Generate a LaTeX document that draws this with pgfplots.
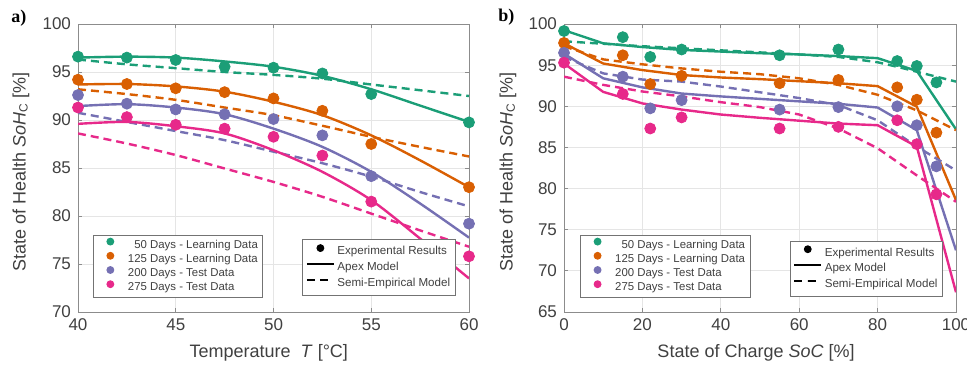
\documentclass[border=0pt]{standalone}
\usepackage{fontspec}
\setmainfont{Liberation Sans}
\newfontfamily\serifb{Liberation Serif}
\usepackage{pgfplots}
\pgfplotsset{compat=1.18}
\definecolor{cg}{HTML}{1B9E77}
\definecolor{co}{HTML}{D95F02}
\definecolor{cb}{HTML}{7570B3}
\definecolor{cp}{HTML}{E7298A}
\definecolor{txt}{HTML}{404040}
\pgfplotsset{
  myaxis/.style={
    scale only axis, width=195.5pt, height=144pt,
    grid=major, grid style={black!10, line width=0.4pt},
    axis line style={black!45, line width=0.5pt},
    tick style={black!45, line width=0.4pt}, tick align=inside, major tick length=2pt,
    ticklabel style={font=\fontsize{8.5}{10}\selectfont, text=txt},
    label style={font=\fontsize{9}{11}\selectfont, text=txt},
    /pgf/number format/assume math mode=true,
    legend cell align=left,
  },
  leg1/.style={
    legend style={at={(#1)}, anchor=south west, draw=black!55, line width=0.5pt, fill=white,
      inner xsep=1.5pt, inner ysep=1.2pt, row sep=0pt,
      font=\fontsize{5.7}{6.5}\selectfont,
      nodes={inner xsep=1pt, inner ysep=0.8pt, text height=4.2pt, text depth=1.2pt, text=txt}},
    legend image code/.code={
      \path[draw=none, fill=none] (0pt,-1pt) rectangle (14.8pt,1pt);
      \draw[##1, mark size=1.7pt] plot coordinates {(7pt,1.9pt)};},
  },
  leg2/.style={
    legend style={at={(#1)}, anchor=south east, draw=black!55, line width=0.5pt, fill=white,
      inner xsep=1.4pt, inner ysep=2pt, row sep=0pt,
      font=\fontsize{5.8}{6.8}\selectfont,
      nodes={inner xsep=1.3pt, inner ysep=1.2pt, text height=4.3pt, text depth=1.2pt, text=txt}},
    legend image code/.code={
      \path[draw=none, fill=none] (0pt,-1pt) rectangle (14.1pt,1pt);
      \draw[mark repeat=2, mark phase=2, ##1] plot coordinates {(0.6pt,1.9pt) (7.4pt,1.9pt) (14.1pt,1.9pt)};},
  },
  dot/.style={only marks, mark=*, mark size=2.75pt, color=#1},
  sol/.style={color=#1, line width=1.2pt, forget plot},
  das/.style={color=#1, line width=1.2pt, dash pattern=on 4pt off 2.5pt, forget plot},
}
\begin{document}
\begin{tikzpicture}
\useasboundingbox (0,0) rectangle (483.5pt,182.5pt);
% ---------------- panel a ----------------
\begin{axis}[myaxis, at={(39pt,26.5pt)}, anchor=south west,
  xmin=40, xmax=60, ymin=70, ymax=100,
  xtick={40,45,...,60}, ytick={70,75,...,100},
  xlabel={Temperature\ \ \textit{T} [°C]},
  ylabel={State of Health \textit{SoH}\textsubscript{C} [\%]},
  xlabel style={at={(axis description cs:0.488,-0.142)}, anchor=center},
  ylabel style={at={(axis description cs:-0.146,0.486)}, anchor=center},
  leg1={0.038,0.049}]
\addplot[sol=cg, smooth] coordinates {(40,96.5) (42.5,96.6) (45,96.5) (47.5,96.1) (50,95.55) (52.5,94.6) (55,93.2) (57.5,91.5) (60,89.8)};
\addplot[das=cg, smooth] coordinates {(40,96.3) (42.5,95.8) (45,95.4) (47.5,95.0) (50,94.7) (52.5,94.3) (55,93.7) (57.5,93.1) (60,92.5)};
\addplot[sol=co, smooth] coordinates {(40,93.7) (42.5,93.75) (45,93.5) (47.5,92.95) (50,91.9) (52.5,90.5) (55,88.4) (57.5,85.8) (60,83.0)};
\addplot[das=co, smooth] coordinates {(40,93.2) (42.5,92.7) (45,92.1) (47.5,91.3) (50,90.5) (52.5,89.4) (55,88.25) (57.5,87.2) (60,86.2)};
\addplot[sol=cb, smooth] coordinates {(40,91.45) (42.5,91.65) (45,91.3) (47.5,90.6) (50,89.1) (52.5,87.2) (55,84.6) (57.5,81.3) (60,77.75)};
\addplot[das=cb, smooth] coordinates {(40,90.75) (42.5,89.8) (45,88.85) (47.5,87.9) (50,86.7) (52.5,85.5) (55,84.1) (57.5,82.5) (60,81.0)};
\addplot[sol=cp, smooth] coordinates {(40,89.6) (42.5,89.8) (45,89.35) (47.5,88.6) (50,86.85) (52.5,84.6) (55,81.65) (57.5,77.65) (60,73.5)};
\addplot[das=cp, smooth] coordinates {(40,88.6) (42.5,87.55) (45,86.35) (47.5,84.95) (50,83.55) (52.5,82.0) (55,80.25) (57.5,78.5) (60,76.8)};
\addplot[dot=cg] coordinates {(40,96.6) (42.5,96.5) (45,96.25) (47.5,95.55) (50,95.45) (52.5,94.85) (55,92.7) (60,89.75)};
\addlegendentry{\phantom{1}50 Days - Learning Data}
\addplot[dot=co] coordinates {(40,94.2) (42.5,93.75) (45,93.3) (47.5,92.9) (50,92.25) (52.5,90.96) (55,87.5) (60,83.0)};
\addlegendentry{125 Days - Learning Data}
\addplot[dot=cb] coordinates {(40,92.6) (42.5,91.7) (45,91.1) (47.5,90.6) (50,90.1) (52.5,88.4) (55,84.15) (60,79.2)};
\addlegendentry{200 Days - Test Data}
\addplot[dot=cp] coordinates {(40,91.3) (42.5,90.3) (45,89.5) (47.5,89.1) (50,88.25) (52.5,86.3) (55,81.5) (60,75.8)};
\addlegendentry{275 Days - Test Data}
\end{axis}
\begin{axis}[myaxis, at={(39pt,26.5pt)}, anchor=south west, hide axis,
  xmin=40, xmax=60, ymin=70, ymax=100, leg2={0.967,0.056}]
\addlegendimage{only marks, mark=*, black, mark size=1.7pt}
\addlegendentry{Experimental Results}
\addlegendimage{black, line width=1pt}
\addlegendentry{Apex Model}
\addlegendimage{black, line width=1pt, dash pattern=on 4pt off 2.8pt}
\addlegendentry{Semi-Empirical Model}
\end{axis}
% ---------------- panel b ----------------
\begin{axis}[myaxis, at={(282pt,26.5pt)}, anchor=south west, width=196pt,
  xmin=0, xmax=100, ymin=65, ymax=100,
  xtick={0,20,...,100}, ytick={65,70,...,100},
  xlabel={State of Charge \textit{SoC} [\%]},
  ylabel={State of Health \textit{SoH}\textsubscript{C} [\%]},
  xlabel style={at={(axis description cs:0.49,-0.142)}, anchor=center},
  ylabel style={at={(axis description cs:-0.143,0.486)}, anchor=center},
  leg1={0.041,0.049}]
\addplot[sol=cg] coordinates {(0,99.25) (10,97.65) (20,97.2) (30,96.85) (40,96.65) (50,96.45) (60,96.3) (70,96.1) (80,95.85) (90,94.3) (100,87.2)};
\addplot[das=cg] coordinates {(0,97.9) (10,97.6) (20,97.3) (30,97.05) (40,96.8) (50,96.55) (60,96.3) (70,96.0) (80,95.35) (85,94.8) (90,94.2) (100,93.0)};
\addplot[sol=co] coordinates {(0,97.65) (10,95.2) (20,94.4) (30,93.8) (40,93.5) (50,93.3) (60,93.05) (70,92.8) (80,92.45) (90,89.95) (100,78.6)};
\addplot[das=co] coordinates {(0,97.3) (10,95.7) (20,95.1) (30,94.6) (40,94.2) (50,93.9) (60,93.4) (70,92.6) (80,91.4) (90,89.5) (100,87.1)};
\addplot[sol=cb] coordinates {(0,96.4) (10,93.4) (20,92.3) (30,91.55) (40,91.2) (50,90.9) (60,90.6) (70,90.3) (80,89.85) (90,87.1) (100,72.5)};
\addplot[das=cb] coordinates {(0,96.0) (10,94.0) (20,93.25) (30,93.0) (40,92.4) (50,91.7) (60,91.0) (70,90.15) (80,88.3) (90,85.1) (100,82.2)};
\addplot[sol=cp] coordinates {(0,95.2) (10,91.75) (20,90.35) (30,89.6) (40,89.0) (50,88.6) (60,88.25) (70,87.9) (80,87.7) (90,85.1) (100,67.4)};
\addplot[das=cp] coordinates {(0,93.6) (10,92.6) (20,91.8) (30,91.2) (40,90.5) (50,89.9) (60,89.0) (70,87.3) (80,84.9) (90,81.6) (100,78.4)};
\addplot[dot=cg] coordinates {(0,99.15) (15,98.4) (22,96.0) (30,96.9) (55,96.2) (70,96.9) (85,95.5) (90,94.9) (95,92.9)};
\addlegendentry{\phantom{1}50 Days - Learning Data}
\addplot[dot=co] coordinates {(0,97.7) (15,96.2) (22,92.7) (30,93.7) (55,92.8) (70,93.2) (85,92.3) (90,90.8) (95,86.8)};
\addlegendentry{125 Days - Learning Data}
\addplot[dot=cb] coordinates {(0,96.5) (15,93.6) (22,89.75) (30,90.75) (55,89.6) (70,89.9) (85,90.0) (90,87.7) (95,82.7)};
\addlegendentry{200 Days - Test Data}
\addplot[dot=cp] coordinates {(0,95.3) (15,91.5) (22,87.3) (30,88.65) (55,87.3) (70,87.5) (85,88.3) (90,85.4) (95,79.3)};
\addlegendentry{275 Days - Test Data}
\end{axis}
\begin{axis}[myaxis, at={(282pt,26.5pt)}, anchor=south west, width=196pt, hide axis,
  xmin=0, xmax=100, ymin=65, ymax=100, leg2={0.968,0.052}]
\addlegendimage{only marks, mark=*, black, mark size=1.7pt}
\addlegendentry{Experimental Results}
\addlegendimage{black, line width=1pt}
\addlegendentry{Apex Model}
\addlegendimage{black, line width=1pt, dash pattern=on 4pt off 2.8pt}
\addlegendentry{Semi-Empirical Model}
\end{axis}
\node[anchor=west, inner sep=0pt, font=\serifb\bfseries\fontsize{9}{10}\selectfont] at (5.5pt,173.5pt) {a)};
\node[anchor=west, inner sep=0pt, font=\serifb\bfseries\fontsize{9}{10}\selectfont] at (249pt,174pt) {b)};
\end{tikzpicture}
\end{document}
